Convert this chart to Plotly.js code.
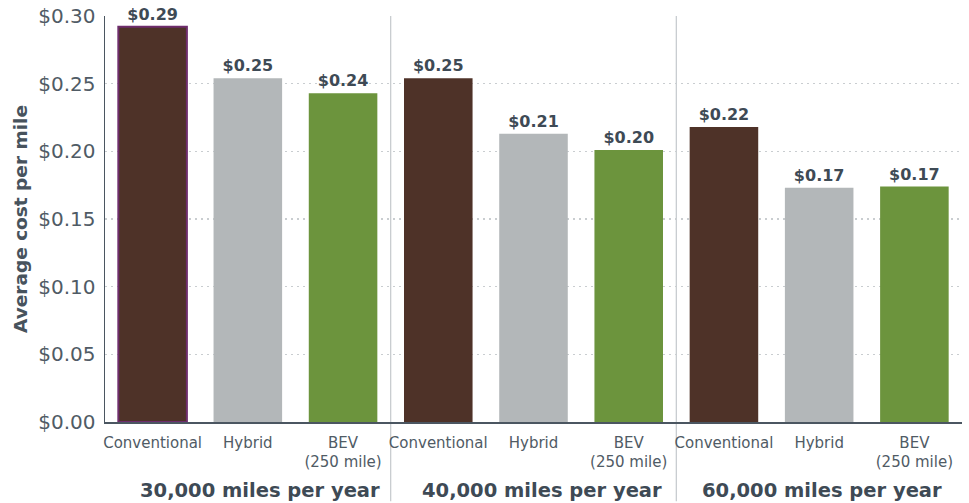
<!DOCTYPE html>
<html>
<head>
<meta charset="utf-8">
<script src="https://cdn.plot.ly/plotly-3.0.1.min.js"></script>
<style>
  html, body { margin: 0; padding: 0; background: #ffffff; }
  #chart { width: 969px; height: 503px; }
</style>
</head>
<body>
<div id="chart"></div>
<script>
// ---- Data ----
const groups = ["30,000 miles per year", "40,000 miles per year", "60,000 miles per year"];
const types = ["Conventional", "Hybrid", "BEV<br>(250 mile)"];
const conventional = [0.292, 0.254, 0.218];
const hybrid = [0.254, 0.213, 0.173];
const bev = [0.243, 0.201, 0.174];
const yTicks = [0, 0.05, 0.10, 0.15, 0.20, 0.25, 0.30];

// ---- Styles ----
const FONT = "DejaVu Sans, Noto Sans, sans-serif";
const TEXT_DARK = "#3e4a55";
const TEXT_MID = "#505b65";
const colors = ["#4e3228", "#b3b7b9", "#6c943d"];

const seriesValues = [conventional, hybrid, bev];
const nTypes = types.length;

const traces = types.map((t, ti) => {
  const xs = groups.map((g, gi) => gi * nTypes + ti);
  const isConv = ti === 0;
  return {
    type: "bar",
    name: t,
    x: xs,
    y: seriesValues[ti],
    width: 0.72,
    marker: {
      color: colors[ti],
      line: {
        color: isConv ? groups.map((g, gi) => gi === 0 ? "#6e2d6c" : colors[ti]) : colors[ti],
        width: isConv ? groups.map((g, gi) => gi === 0 ? 2 : 0) : 0
      }
    },
    text: seriesValues[ti].map(v => "$" + v.toFixed(2)),
    textposition: "outside",
    cliponaxis: false,
    textfont: { family: FONT, size: 16, color: TEXT_DARK, weight: "bold" },
    hoverinfo: "skip",
    showlegend: false
  };
});

const tickvals = [];
const ticktext = [];
groups.forEach((g, gi) => types.forEach((t, ti) => {
  tickvals.push(gi * nTypes + ti);
  ticktext.push(t);
}));

const separatorShapes = groups.slice(1).map((g, gi) => ({
  type: "line",
  xref: "x", yref: "paper",
  x0: (gi + 1) * nTypes - 0.5, x1: (gi + 1) * nTypes - 0.5,
  y0: -0.195, y1: 1,
  line: { color: "#c8ccd0", width: 1.3 },
  layer: "below"
}));

const groupAnnotations = groups.map((g, gi) => ({
  text: "<b>" + g + "</b>",
  xref: "x", yref: "paper",
  x: gi * nTypes + (nTypes - 1) / 2,
  y: -0.168,
  xanchor: "center", yanchor: "middle",
  xshift: [12, 8, 3][gi],
  showarrow: false,
  font: { family: FONT, size: 19.5, color: TEXT_DARK }
}));

const layout = {
  width: 969,
  height: 503,
  margin: { l: 105, r: 7, t: 16, b: 81 },
  paper_bgcolor: "#ffffff",
  plot_bgcolor: "#ffffff",
  barmode: "overlay",
  font: { family: FONT, color: TEXT_MID },
  xaxis: {
    range: [-0.5, groups.length * nTypes - 0.5],
    tickvals: tickvals,
    ticktext: ticktext,
    tickfont: { family: FONT, size: 15, color: TEXT_MID },
    showgrid: false,
    zeroline: false,
    showline: true,
    linecolor: "#4b5661",
    linewidth: 1.5,
    ticks: "",
    ticklabelstandoff: 6,
    fixedrange: true
  },
  yaxis: {
    range: [0, 0.30],
    tickvals: yTicks,
    ticktext: yTicks.map(v => "$" + v.toFixed(2)),
    tickfont: { family: FONT, size: 20, color: TEXT_MID },
    showgrid: true,
    gridcolor: "#c9cdd0",
    gridwidth: 1.5,
    griddash: "2px,4px",
    zeroline: false,
    showline: true,
    linecolor: "#4b5661",
    linewidth: 1.5,
    ticks: "",
    ticklabelstandoff: 4,
    title: {
      text: "<b>Average cost per mile</b>",
      font: { family: FONT, size: 18.5, color: "#47535d" },
      standoff: 6
    },
    fixedrange: true
  },
  shapes: separatorShapes,
  annotations: groupAnnotations
};

Plotly.newPlot("chart", traces, layout, { displayModeBar: false, staticPlot: true });
</script>
</body>
</html>
